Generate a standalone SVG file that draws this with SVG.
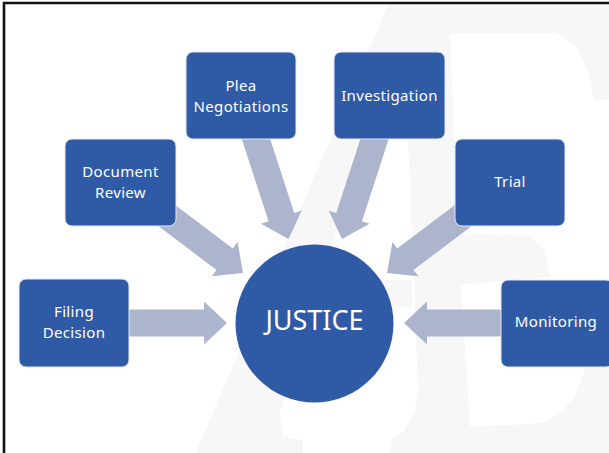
<svg xmlns="http://www.w3.org/2000/svg" width="609" height="453" viewBox="0 0 609 453">
<style>
.box{fill:#2f5ba6;stroke:#e4e9f3;stroke-width:1}
.lbl{font-family:"Noto Sans","Liberation Sans",sans-serif;font-size:15px;letter-spacing:0.35px;fill:#ffffff;text-anchor:middle}
.big{font-family:"Noto Sans","Liberation Sans",sans-serif;font-size:27px;fill:#ffffff;text-anchor:middle}
.arr{fill:#adb5ce}
.wm{fill:#f7f7f7}
</style>
<defs>
<polygon id="arrowShape" class="arr" points="0,0 -23,-21.5 -23,-13.5 -120,-13.5 -120,13.5 -23,13.5 -23,21.5"/>
</defs>
<rect width="609" height="453" fill="#ffffff"/>
<g id="watermark">
<polygon class="wm" points="388,5 405,5 398,55 358,135 333,245 300,360 280,410 283,437 303,440 303,453 196,453 198,447"/>
<polygon class="wm" points="388,5 609,5 609,100 594,100 588,72 575,45 555,33 450,33 458,233 530,236 545,250 550,277 461,285 470,427 544,423 562,412 575,395 586,367 609,360 609,453 390,453 392,440 405,430 415,410 418,390 405,60 398,55"/>
<polygon class="wm" points="323,280 412,280 413,307 316,307"/>
</g>
<path d="M4,453 V3 H609" fill="none" stroke="#111111" stroke-width="2.6"/>
<g id="connectors">
<use href="#arrowShape" transform="translate(227,323)"/>
<use href="#arrowShape" transform="translate(404,323) rotate(180)"/>
<use href="#arrowShape" transform="translate(243,273) rotate(37)"/>
<use href="#arrowShape" transform="translate(387,273) rotate(143)"/>
<use href="#arrowShape" transform="translate(288.5,239) rotate(72)"/>
<use href="#arrowShape" transform="translate(342,239) rotate(108)"/>
</g>
<g id="node-plea">
<rect class="box" x="186" y="52" width="110" height="87" rx="7"/>
<text class="lbl" x="241" y="91">Plea</text>
<text class="lbl" x="241" y="111.5">Negotiations</text>
</g>
<g id="node-investigation">
<rect class="box" x="334" y="52" width="111" height="87" rx="7"/>
<text class="lbl" x="389.5" y="101">Investigation</text>
</g>
<g id="node-document-review">
<rect class="box" x="65" y="139" width="111" height="87" rx="7"/>
<text class="lbl" x="120.5" y="177">Document</text>
<text class="lbl" x="120.5" y="197.5">Review</text>
</g>
<g id="node-trial">
<rect class="box" x="455" y="139" width="110" height="87" rx="7"/>
<text class="lbl" x="510" y="187">Trial</text>
</g>
<g id="node-filing-decision">
<rect class="box" x="19" y="279" width="110" height="88" rx="7"/>
<text class="lbl" x="74" y="317">Filing</text>
<text class="lbl" x="74" y="337.5">Decision</text>
</g>
<g id="node-monitoring">
<rect class="box" x="501" y="280" width="112" height="87" rx="7"/>
<text class="lbl" x="556" y="327">Monitoring</text>
</g>
<g id="node-justice">
<circle cx="314.5" cy="323.5" r="79" fill="#2f5ba6"/>
<text class="big" x="314.5" y="330">JUSTICE</text>
</g>
</svg>
